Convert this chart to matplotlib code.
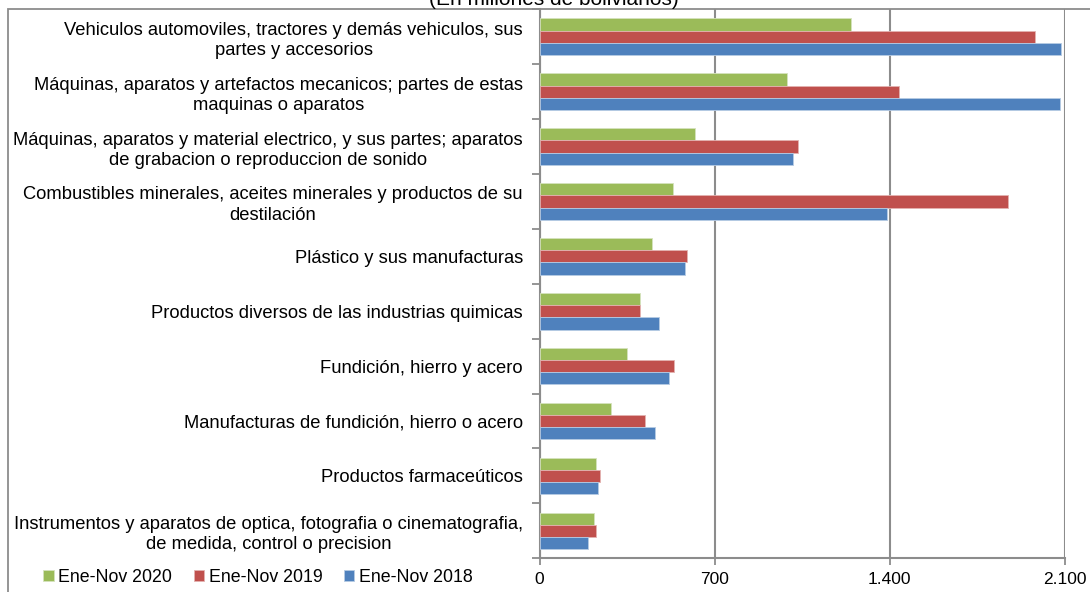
import matplotlib.pyplot as plt
import numpy as np
from matplotlib.patches import Rectangle
from matplotlib.ticker import FixedLocator

plt.rcParams['font.family'] = ['Liberation Sans', 'DejaVu Sans']

categories = [
    'Vehiculos automoviles, tractores y demás vehiculos, sus\npartes y accesorios',
    'Máquinas, aparatos y artefactos mecanicos; partes de estas\nmaquinas o aparatos',
    'Máquinas, aparatos y material electrico, y sus partes; aparatos\nde grabacion o reproduccion de sonido',
    'Combustibles minerales, aceites minerales y productos de su\ndestilación',
    'Plástico y sus manufacturas',
    'Productos diversos de las industrias quimicas',
    'Fundición, hierro y acero',
    'Manufacturas de fundición, hierro o acero',
    'Productos farmaceúticos',
    'Instrumentos y aparatos de optica, fotografia o cinematografia,\nde medida, control o precision',
]
ene_nov_2020 = [1245, 989, 623, 535, 451, 400, 348, 285, 227, 218]
ene_nov_2019 = [1980, 1437, 1033, 1872, 591, 402, 539, 421, 243, 226]
ene_nov_2018 = [2083, 2082, 1012, 1388, 581, 478, 517, 462, 234, 195]
x_ticks = [0, 700, 1400, 2100]
x_tick_labels = ['0', '700', '1.400', '2.100']

grey = '#8c8c8c'
fig = plt.figure(figsize=(10.9, 5.92), dpi=100)
ax = fig.add_axes([539.5 / 1090, 1 - 558.3 / 592, (1065 - 539.5) / 1090, (558.3 - 9.3) / 592])

# chart frame (cut off at right and bottom)
fig.patches.append(Rectangle((8 / 1090, -0.2), 1.5, 1.2 - 9.3 / 592, transform=fig.transFigure,
                             fill=False, edgecolor=grey, linewidth=1.3, zorder=0))

y = np.arange(len(categories))
h = 0.222
ax.barh(y - h, ene_nov_2020, height=h, color='#9BBB59', edgecolor='#d5e3bd', linewidth=0.6,
        label='Ene-Nov 2020', zorder=3)
ax.barh(y, ene_nov_2019, height=h, color='#C0504D', edgecolor='#e3b2b0', linewidth=0.6,
        label='Ene-Nov 2019', zorder=3)
ax.barh(y + h, ene_nov_2018, height=h, color='#4F81BD', edgecolor='#b6cbe4', linewidth=0.6,
        label='Ene-Nov 2018', zorder=3)

ax.set_ylim(len(categories) - 0.5, -0.5)
ax.set_xlim(0, 2100)
ax.set_xticks(x_ticks)
ax.set_xticklabels(x_tick_labels, fontsize=12.5)
ax.set_yticks(y)
ax.set_yticklabels(categories, fontsize=13.2, multialignment='center', linespacing=1.25)
ax.yaxis.set_minor_locator(FixedLocator(np.arange(-0.5, len(categories), 1)))
ax.tick_params(axis='y', which='major', length=0, pad=12)
ax.tick_params(axis='y', which='minor', length=6, width=1.3, color=grey)
ax.tick_params(axis='x', length=5, width=1.3, color=grey, pad=5)

ax.grid(axis='x', color=grey, linewidth=1.5, zorder=0)
ax.set_axisbelow(True)
for s in ['top', 'right']:
    ax.spines[s].set_visible(False)
for s in ['left', 'bottom']:
    ax.spines[s].set_color(grey)
    ax.spines[s].set_linewidth(1.5)

fig.text(554 / 1090, 1 - 5 / 592, '(En millones de bolivianos)', ha='center', va='baseline',
         fontsize=15)

fig.legend(loc='center', bbox_to_anchor=(258 / 1090, 1 - 577 / 592), ncol=3, frameon=False,
           fontsize=12.8, handlelength=0.6, handleheight=0.6, handletextpad=0.25,
           columnspacing=1.2, borderaxespad=0)

fig.savefig('out.png', dpi=100)
